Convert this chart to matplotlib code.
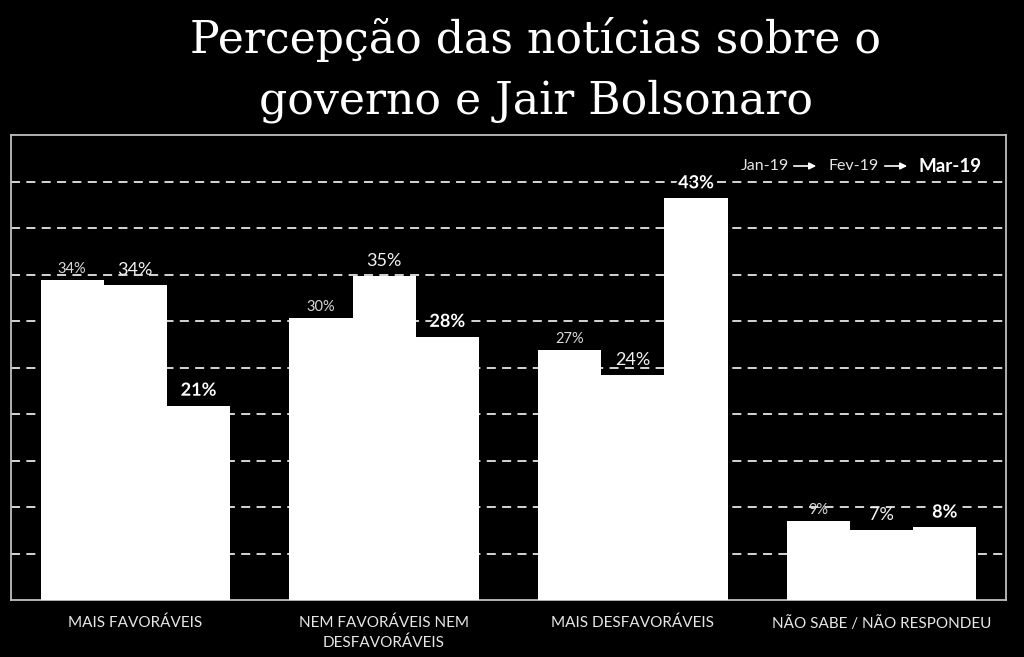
import matplotlib
matplotlib.use("Agg")
import matplotlib.pyplot as plt
import matplotlib.patheffects as pe
import numpy as np

categories = ["MAIS FAVORÁVEIS", "NEM FAVORÁVEIS NEM\nDESFAVORÁVEIS",
              "MAIS DESFAVORÁVEIS", "NÃO SABE / NÃO RESPONDEU"]
series_names = ["Jan-19", "Fev-19", "Mar-19"]
jan = [34.4, 30.3, 26.9, 8.5]
fev = [33.9, 34.8, 24.2, 7.5]
mar = [20.9, 28.3, 43.2, 7.8]
jan_labels = ["34%", "30%", "27%", "9%"]
fev_labels = ["34%", "35%", "24%", "7%"]
mar_labels = ["21%", "28%", "43%", "8%"]
title_lines = ["Percepção das notícias sobre o", "governo e Jair Bolsonaro"]

FONT = "Lato"
fig = plt.figure(figsize=(10.24, 6.57), dpi=100, facecolor="black")
ax = fig.add_axes([11/1024, 1-600/657, 995/1024, 465/657], facecolor="black")

x = np.arange(len(categories))
w = 0.254
series = [jan, fev, mar]
labels = [jan_labels, fev_labels, mar_labels]
styles = [dict(fontsize=10.5, color="#d9d9d9", fontweight="normal", offset=3),
          dict(fontsize=13, color="#f2f2f2", fontweight="normal", offset=5),
          dict(fontsize=13, color="white", fontweight="bold", offset=5)]
for i, (vals, labs, st) in enumerate(zip(series, labels, styles)):
    pos = x + (i - 1) * w
    ax.bar(pos, vals, width=w, color="white", edgecolor="white", linewidth=0, zorder=3)
    for px, v, lab in zip(pos, vals, labs):
        t = ax.annotate(lab, (px, v), xytext=(0, st["offset"]), textcoords="offset points",
                        ha="center", va="bottom", fontsize=st["fontsize"],
                        color=st["color"], fontweight=st["fontweight"], family=FONT, zorder=5)
        if i == 2:
            t.set_path_effects([pe.withStroke(linewidth=3, foreground="black")])

ax.set_xlim(-0.5, 3.5)
ax.set_ylim(0, 50)
ax.set_yticks(np.arange(5, 50, 5))
ax.yaxis.grid(True, color="#e6e6e6", linestyle=(0, (5, 3.5)), linewidth=1.3, zorder=1)
ax.set_axisbelow(True)
ax.tick_params(axis="y", left=False, labelleft=False)
ax.tick_params(axis="x", bottom=False, pad=8)
ax.set_xticks(x)
ax.set_xticklabels(categories, fontsize=11, color="#e6e6e6", family=FONT, linespacing=1.4)
for sp in ax.spines.values():
    sp.set_color("#bfbfbf")
    sp.set_linewidth(1.3)

# legend-like header
y_leg = 1 - 166/657
fig.text(741/1024, y_leg, series_names[0], fontsize=11.5, color="#e6e6e6", family=FONT, va="center", ha="left")
fig.text(828/1024, y_leg, series_names[1], fontsize=11.5, color="#e6e6e6", family=FONT, va="center", ha="left")
fig.text(918/1024, y_leg, series_names[2], fontsize=13.5, color="white", family=FONT, fontweight="bold", va="center", ha="left")
for x0, x1 in [(791, 819), (882, 910)]:
    fig.add_artist(matplotlib.patches.FancyArrowPatch((x0/1024, y_leg), (x1/1024, y_leg),
                   transform=fig.transFigure, arrowstyle="-|>", mutation_scale=10,
                   color="white", linewidth=1.2))

fig.text(0.523, 1-40/657, title_lines[0], fontsize=31.8, color="white", family="DejaVu Serif", ha="center", va="center")
fig.text(0.523, 1-101/657, title_lines[1], fontsize=31.8, color="white", family="DejaVu Serif", ha="center", va="center")

fig.savefig("out.png", dpi=100, facecolor="black")
